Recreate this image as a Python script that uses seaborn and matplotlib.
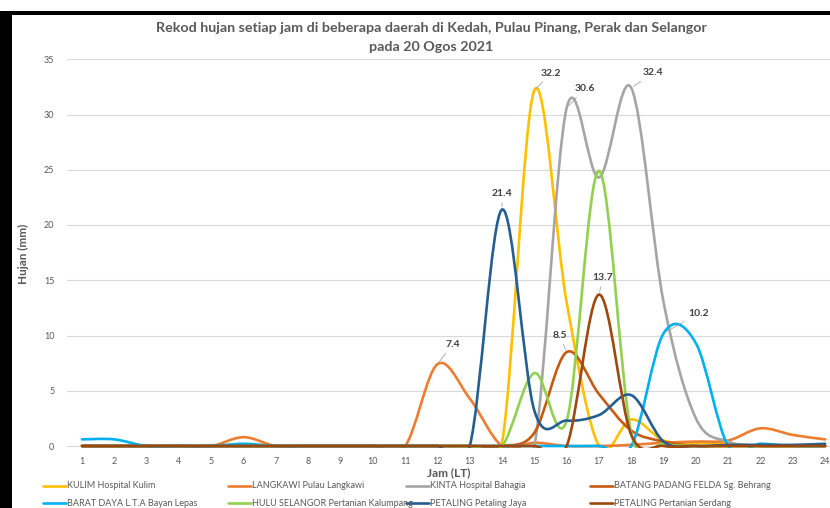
import matplotlib
matplotlib.use('Agg')
import matplotlib.pyplot as plt
import seaborn as sns
import numpy as np
from matplotlib.path import Path
from matplotlib.patches import PathPatch, Rectangle
from matplotlib.lines import Line2D

# === DATA ===
hours = list(range(1, 25))

kulim = [0, 0, 0, 0, 0, 0, 0, 0, 0, 0, 0, 0, 0, 0.3, 32.2, 13.0, 0, 2.4, 0.5, 0.3, 0.2, 0, 0, 0]
langkawi = [0, 0, 0, 0, 0, 0.8, 0, 0, 0, 0, 0, 7.4, 4.3, 0, 0.3, 0, 0, 0.1, 0.3, 0.4, 0.5, 1.6, 1.0, 0.6]
kinta = [0, 0, 0, 0, 0, 0, 0, 0, 0, 0, 0, 0, 0, 0, 0, 30.6, 24.3, 32.4, 13.0, 2.5, 0.4, 0, 0, 0]
batang_padang = [0, 0, 0, 0, 0, 0, 0, 0, 0, 0, 0, 0, 0, 0, 1.2, 8.5, 4.7, 1.4, 0.4, 0, 0, 0, 0, 0]
barat_daya = [0.6, 0.6, 0, 0, 0, 0.2, 0, 0, 0, 0, 0, 0, 0, 0, 0, 0, 0, 0, 10.2, 9.3, 0, 0.2, 0, 0]
hulu_selangor = [0, 0, 0, 0, 0, 0, 0, 0, 0, 0, 0, 0, 0, 0, 6.6, 2.3, 24.9, 1.2, 0.2, 0, 0, 0, 0, 0]
petaling_jaya = [0, 0, 0, 0, 0, 0, 0, 0, 0, 0, 0, 0, 0, 21.4, 3.2, 2.3, 2.8, 4.6, 0.4, 0, 0.1, 0.1, 0.1, 0.2]
serdang = [0, 0, 0, 0, 0, 0, 0, 0, 0, 0, 0, 0, 0, 0, 0, 0, 13.7, 1.0, 0, 0, 0, 0, 0, 0]

series_names = ['KULIM Hospital Kulim', 'LANGKAWI Pulau Langkawi', 'KINTA Hospital Bahagia',
                'BATANG PADANG FELDA Sg. Behrang', 'BARAT DAYA L.T.A Bayan Lepas',
                'HULU SELANGOR Pertanian Kalumpang', 'PETALING Petaling Jaya',
                'PETALING Pertanian Serdang']
series_values = [kulim, langkawi, kinta, batang_padang, barat_daya, hulu_selangor,
                 petaling_jaya, serdang]
colors = ['#FFC000', '#ED7D31', '#A5A5A5', '#C55A11', '#00B0F0', '#92D050', '#255E91', '#9E480E']

# peak labels: (series index, hour, offset in pixels)
peak_labels = [(0, 15, (17, 17)), (2, 16, (18, 19)), (2, 18, (22, 15)), (6, 14, (0, 16)),
               (1, 12, (15, 20)), (3, 16, (-7, 17)), (7, 17, (4, 17)), (4, 19, (35, 20))]


def smooth_path(x, y):
    # Excel-style smoothed line: cubic Bezier through every point
    x = np.asarray(x, float)
    y = np.asarray(y, float)
    n = len(x)
    verts = [(x[0], y[0])]
    codes = [Path.MOVETO]
    for i in range(n - 1):
        i0 = max(i - 1, 0)
        i3 = min(i + 2, n - 1)
        c1 = (x[i] + (x[i + 1] - x[i0]) / 6, y[i] + (y[i + 1] - y[i0]) / 6)
        c2 = (x[i + 1] - (x[i3] - x[i]) / 6, y[i + 1] - (y[i3] - y[i]) / 6)
        verts += [c1, c2, (x[i + 1], y[i + 1])]
        codes += [Path.CURVE4] * 3
    return Path(verts, codes)


sns.set_theme(style='white')
plt.rcParams['font.family'] = ['Lato', 'DejaVu Sans']

fig = plt.figure(figsize=(8.3, 5.08), dpi=100)
W, H = 830, 508
x0, x1 = 0.53, 24.15
y0, y1 = -0.2, 35
left = 82 - (1 - x0) * 32.3
bottom = 446 + (0 - y0) * 11.05
top = 446 - 35 * 11.05
ax = fig.add_axes([left / W, 1 - bottom / H, (W - left) / W, (bottom - top) / H])

for vals, col in zip(series_values, colors):
    patch = PathPatch(smooth_path(hours, vals), facecolor='none', edgecolor=col,
                      linewidth=1.9, capstyle='round', joinstyle='round')
    ax.add_patch(patch)

ax.set_xlim(x0, x1)
ax.set_ylim(y0, y1)
ax.set_xticks(hours)
ax.set_yticks(range(0, 36, 5))
ax.grid(axis='y', color='#D9D9D9', linewidth=0.8)
ax.set_axisbelow(True)
for s in ax.spines.values():
    s.set_visible(False)
ax.tick_params(axis='both', length=0, labelsize=6.5, labelcolor='#595959')
ax.tick_params(axis='y', pad=9)
ax.tick_params(axis='x', pad=6)
ax.set_xlabel('Jam (LT)', fontsize=8.5, fontweight='bold', color='#595959', labelpad=1)
ax.set_ylabel('Hujan (mm)', fontsize=8.5, fontweight='bold', color='#595959', labelpad=11)

for si, hr, (dx, dy) in peak_labels:
    val = series_values[si][hr - 1]
    ax.annotate(f'{val:.1f}', xy=(hr, val), xytext=(dx, dy), textcoords='offset pixels',
                ha='center', va='center', fontsize=7.5, fontweight='bold', color='#404040',
                arrowprops=dict(arrowstyle='-', color='#A6A6A6', lw=0.6, shrinkA=1, shrinkB=2))

fig.text(431 / W, 1 - 28 / H, 'Rekod hujan setiap jam di beberapa daerah di Kedah, Pulau Pinang, Perak dan Selangor',
         ha='center', va='center', fontsize=10.3, fontweight='bold', color='#595959')
fig.text(431 / W, 1 - 47 / H, 'pada 20 Ogos 2021',
         ha='center', va='center', fontsize=10.3, fontweight='bold', color='#595959')

# legend laid out like the spreadsheet one
col_x = [43, 228, 406, 590]
row_y = [486, 503]
for k, (name, col) in enumerate(zip(series_names, colors)):
    cx = col_x[k % 4]
    cy = row_y[k // 4]
    fig.add_artist(Line2D([cx / W, (cx + 23) / W], [1 - cy / H, 1 - cy / H], color=col,
                          linewidth=1.9, transform=fig.transFigure))
    fig.text((cx + 24) / W, 1 - cy / H, name, ha='left', va='center', fontsize=6.5,
             color='#595959')

# black frame from the screenshot
fig.add_artist(Rectangle((0, 0), 12 / W, 1 - 11 / H, transform=fig.transFigure,
                         facecolor='black', edgecolor='none'))
fig.add_artist(Rectangle((10 / W, 1 - 15 / H), 1, 4 / H, transform=fig.transFigure,
                         facecolor='black', edgecolor='none'))

fig.savefig('out.png', dpi=100)
